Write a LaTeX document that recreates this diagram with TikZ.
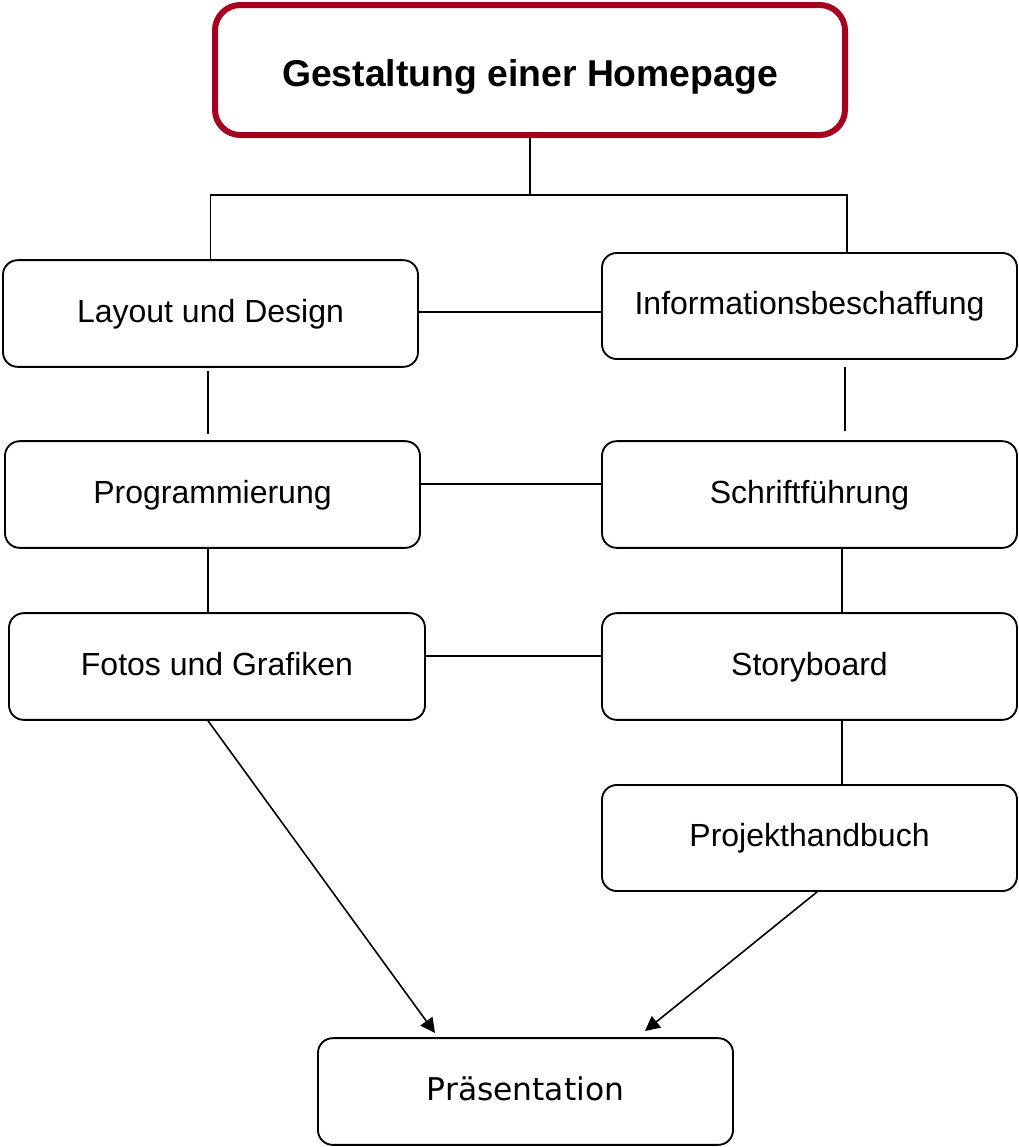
\documentclass[tikz,border=0pt]{standalone}
\usepackage{fontspec}
\setmainfont{Liberation Sans}
\newfontfamily\dejavu{DejaVu Sans}
\usetikzlibrary{arrows.meta}
\definecolor{titlered}{RGB}{166,0,33}
\begin{document}
\begin{tikzpicture}[x=0.75pt,y=-0.75pt,
  box/.style={draw=black, line width=1.4pt, rounded corners=11pt, inner sep=0pt,
    minimum width=311.25pt, minimum height=80pt, align=center,
    font=\fontsize{24}{28}\selectfont, text height=18pt, text depth=5pt},
  titlebox/.style={draw=titlered, line width=4.5pt, rounded corners=19pt, inner sep=0pt,
    minimum width=472.5pt, minimum height=97.5pt,
    font=\fontsize{28}{32}\selectfont\bfseries, text height=30pt, text depth=6pt},
  conn/.style={draw=black, line width=1.2pt},
  arr/.style={conn, -{Triangle[length=11pt,width=11pt]}}]
\useasboundingbox (0,0) rectangle (1019,1147);

\node[titlebox] (T) at (530,70) {Gestaltung einer Homepage};
\node[box] (L) at (210.5,313.5) {Layout und Design};
\node[box, minimum height=79.5pt] (I) at (809.5,306) {Informationsbeschaffung};
\node[box] (P) at (212.5,494.5) {Programmierung};
\node[box] (S) at (809.5,494.5) {Schriftführung};
\node[box, minimum width=312pt] (F) at (217,666.5) {Fotos und Grafiken};
\node[box] (St) at (809.5,666.5) {Storyboard};
\node[box, minimum height=79.5pt] (Pj) at (809.5,838) {Projekthandbuch};
\node[box, font=\fontsize{23.5}{28}\selectfont\dejavu] (Pr) at (525.5,1091.5) {Präsentation};

\coordinate (j) at (530,195);
\coordinate (a1) at (435,1033);
\coordinate (a2) at (645,1031);

% tree from title
\draw[conn] (T.south) -- (j);
\draw[conn] (L.north) |- (j) -| (I.north -| 847,0);

% horizontal links
\draw[conn] (L.east |- 0,312) -- (I.west |- 0,312);
\draw[conn] (P.east |- 0,484) -- (S.west |- 0,484);
\draw[conn] (F.east |- 0,656) -- (St.west |- 0,656);

% vertical links
\draw[conn, shorten <=2.25pt, shorten >=4.5pt] (L.south -| 208,0) -- (P.north -| 208,0);
\draw[conn, shorten <=5pt, shorten >=7pt] (I.south -| 845,0) -- (S.north -| 845,0);
\draw[conn] (P.south -| 208,0) -- (F.north -| 208,0);
\draw[conn] (S.south -| 842,0) -- (St.north -| 842,0);
\draw[conn] (St.south -| 842,0) -- (Pj.north -| 842,0);

% arrows
\draw[arr] (F.south -| 208,0) -- (a1);
\draw[arr] (Pj.south -| 817,0) -- (a2);
\end{tikzpicture}
\end{document}
